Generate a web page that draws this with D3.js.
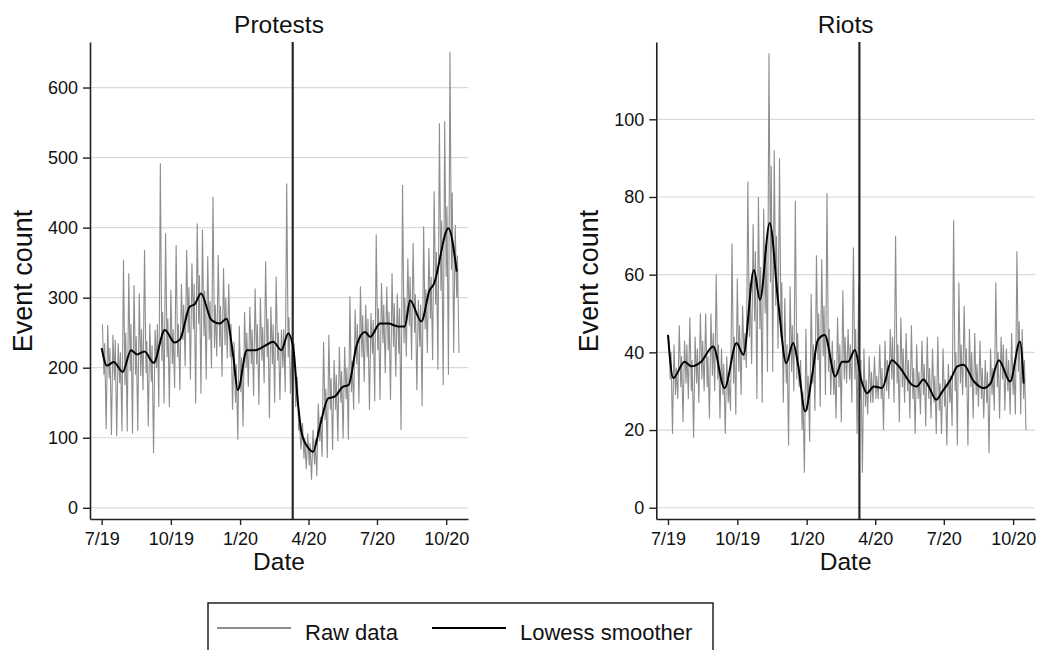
<!DOCTYPE html>
<html><head><meta charset="utf-8">
<script src="https://cdn.jsdelivr.net/npm/d3@7"></script>
<style>body{margin:0;background:#fff}svg{display:block;font-family:"Liberation Sans",Arial,Helvetica,sans-serif}</style>
</head><body><svg id="chart" width="1038" height="650"></svg>
<script>
// ---------- data ----------
const startDate = "2019-07-01";            // first observation (a Monday)
const eventDate = "2020-03-11";            // vertical reference line
const xTickDates = ["2019-07-01","2019-10-01","2020-01-01","2020-04-01","2020-07-01","2020-10-01"];
const xTickLabels = ["7/19","10/19","1/20","4/20","7/20","10/20"];
const protestTicks = [0,100,200,300,400,500,600];
const riotTicks = [0,20,40,60,80,100];

// raw daily counts, summarised per week: weekday peak, weekday dip, second weekday peak, weekend trough
const protestHigh = [262,261,247,235,354,335,318,306,368,263,254,492,392,311,375,320,368,349,406,397,359,444,361,342,320,237,260,280,287,313,300,352,287,330,254,463,230,187,121,106,111,149,237,247,211,230,230,302,283,316,290,278,390,321,316,335,306,461,356,378,297,402,371,452,549,552,651,404];
const protestDip  = [190,185,182,178,175,195,190,188,192,180,200,210,215,205,215,240,250,255,262,245,240,228,230,232,215,150,165,200,205,205,210,215,205,210,200,215,200,110,70,60,62,95,125,140,140,150,155,165,205,215,215,220,225,235,225,230,220,235,260,250,230,255,270,290,310,330,340,300];
const protestMid  = [235,228,240,222,250,262,245,255,238,232,262,280,270,255,262,290,315,320,332,310,295,290,288,300,262,205,215,250,255,262,258,270,262,250,255,272,235,120,100,92,98,130,170,185,190,195,200,210,262,275,270,268,285,290,280,292,285,300,330,305,290,312,330,365,410,430,450,360];
const protestLow  = [112,104,102,109,109,106,110,168,116,78,144,149,144,171,168,202,183,149,163,183,199,216,187,213,140,97,116,173,160,147,178,128,150,154,165,163,144,83,55,40,45,73,71,83,95,99,97,140,149,180,140,152,154,192,154,187,111,216,211,168,145,221,211,197,175,190,221,221];
const riotHigh = [44,42,47,43,49,44,50,50,50,60,41,39,68,59,52,84,73,80,77,117,92,90,54,57,79,38,46,55,65,64,81,43,49,56,46,67,57,41,39,39,42,43,46,70,49,45,47,42,43,44,41,44,41,37,74,58,52,46,45,43,38,41,58,44,41,45,66,46];
const riotDip  = [33,29,31,32,30,32,33,31,34,33,29,27,32,35,38,44,48,46,50,58,52,44,32,35,33,20,25,32,38,39,35,29,31,33,33,33,28,26,27,28,28,30,33,32,31,30,28,28,29,28,27,25,26,27,30,32,31,31,29,28,27,29,31,33,30,29,35,28];
const riotMid  = [40,36,39,42,38,41,43,39,45,42,37,33,44,47,45,58,66,62,68,88,70,58,42,47,45,30,34,42,50,52,46,38,42,44,42,46,38,33,35,34,36,38,44,42,41,38,36,35,37,36,34,32,33,34,40,42,41,40,37,36,35,36,40,42,38,37,48,38];
const riotLow  = [19,28,22,28,18,27,30,23,30,23,19,25,24,29,36,37,28,27,35,35,41,27,16,30,31,9,17,25,26,29,29,23,22,32,27,19,9,24,27,28,20,28,27,22,27,23,19,24,21,23,19,19,16,21,16,29,16,23,26,23,14,25,23,25,24,24,24,20];

// lowess smoother: days since startDate and fitted value
const protestSmoothDay = [0,7,16,28,39,47,57,69,84,97,104,117,124,132,146,157,166,175,181,193,204,215,228,239,248,255,261,266,275,281,290,301,310,321,328,339,350,357,370,381,394,403,410,425,436,441,461,472];
const protestSmooth    = [228,203,208,194,225,219,223,207,254,236,240,287,291,306,268,263,270,216,168,225,225,230,237,225,249,225,149,106,85,80,116,156,159,173,175,232,251,244,263,263,259,259,296,266,311,318,399,337];
const riotSmoothDay = [0,7,22,31,44,60,75,91,100,114,122,135,146,157,166,173,182,191,199,208,222,231,239,248,257,264,273,284,297,308,324,330,339,346,356,364,375,384,392,406,419,428,439,454,467,472];
const riotSmooth    = [44.5,33.4,37.6,36.4,37.6,41.5,30.8,42.4,39.4,61.2,53.5,73.3,53.5,37.2,42.4,36.4,24.8,33.8,43.2,44.5,33.8,37.6,37.6,40.6,32.5,29.5,31.2,30.8,38,36,31.6,31.2,33,31.2,27.8,29.9,33,36.4,36.8,32.5,30.8,32,38,32.5,42.8,32];

// ---------- drawing ----------
function parse(s){const p=s.split("-").map(Number);return new Date(p[0],p[1]-1,p[2]);}
const start = parse(startDate);
const svg = d3.select("#chart");
const TOP = 42, BOTTOM = 519;

function panel(cfg){
  const g = svg.append("g");
  const x = d3.scaleTime()
    .domain([d3.timeHour.offset(start,-15.5*24), d3.timeDay.offset(start,487)])
    .range([cfg.left, cfg.right]);
  const y = d3.scaleLinear().domain(cfg.yDomain).range([BOTTOM, TOP]);

  // gridlines
  g.append("g").selectAll("line").data(cfg.ticks).join("line")
    .attr("x1", cfg.left).attr("x2", cfg.right)
    .attr("y1", d=>y(d)).attr("y2", d=>y(d))
    .attr("stroke", "#d9d9d9").attr("stroke-width", 1.2);

  // raw series (Tue peak, Thu dip, Fri peak, Sun trough)
  const raw = [];
  cfg.high.forEach((h,k)=>{
    raw.push({date:d3.timeDay.offset(start,7*k+1), v:h});
    raw.push({date:d3.timeDay.offset(start,7*k+3), v:cfg.dip[k]});
    raw.push({date:d3.timeDay.offset(start,7*k+4), v:cfg.mid[k]});
    raw.push({date:d3.timeDay.offset(start,7*k+6), v:cfg.low[k]});
  });
  g.append("path").datum(raw)
    .attr("fill","none").attr("stroke","#8e8e8e").attr("stroke-width",1.1)
    .attr("d", d3.line().x(d=>x(d.date)).y(d=>y(d.v)));

  // event line
  const ex = x(parse(eventDate));
  g.append("line").attr("x1",ex).attr("x2",ex).attr("y1",TOP).attr("y2",BOTTOM)
    .attr("stroke","#2a2a2a").attr("stroke-width",2.2);

  // smoother
  const sm = cfg.smoothDay.map((d,i)=>({date:d3.timeDay.offset(start,d), v:cfg.smooth[i]}));
  g.append("path").datum(sm)
    .attr("fill","none").attr("stroke","#000").attr("stroke-width",2)
    .attr("d", d3.line().curve(d3.curveMonotoneX).x(d=>x(d.date)).y(d=>y(d.v)));

  // axes
  const ya = g.append("g").attr("transform",`translate(${cfg.left},0)`)
    .call(d3.axisLeft(y).tickValues(cfg.ticks).tickSize(7).tickSizeOuter(0).tickPadding(5));
  const xa = g.append("g").attr("transform",`translate(0,${BOTTOM})`)
    .call(d3.axisBottom(x).tickValues(xTickDates.map(parse)).tickFormat((d,i)=>xTickLabels[i])
      .tickSize(6).tickSizeOuter(0).tickPadding(7));
  [ya,xa].forEach(a=>{
    a.select(".domain").attr("stroke","#222").attr("stroke-width",1.6);
    a.selectAll(".tick line").attr("stroke","#222").attr("stroke-width",1.4);
    a.selectAll("text").attr("font-size",18).attr("fill","#111")
      .attr("font-family","'Liberation Sans',Arial,sans-serif");
  });

  // titles & labels
  const cx = (cfg.left+cfg.right)/2;
  g.append("text").attr("x",cx).attr("y",33).attr("text-anchor","middle")
    .attr("font-size",24.5).attr("fill","#111").text(cfg.title);
  g.append("text").attr("x",cx).attr("y",570).attr("text-anchor","middle")
    .attr("font-size",24.5).attr("fill","#111").text("Date");
  g.append("text").attr("transform",`translate(${cfg.labelX},281) rotate(-90)`)
    .attr("text-anchor","middle").attr("font-size",27).attr("fill","#111").text("Event count");
}

panel({left:90, right:468, yDomain:[-16,665], ticks:protestTicks, title:"Protests",
  high:protestHigh, dip:protestDip, mid:protestMid, low:protestLow,
  smoothDay:protestSmoothDay, smooth:protestSmooth, labelX:31.5});
panel({left:656.3, right:1035, yDomain:[-2.9,119.9], ticks:riotTicks, title:"Riots",
  high:riotHigh, dip:riotDip, mid:riotMid, low:riotLow,
  smoothDay:riotSmoothDay, smooth:riotSmooth, labelX:598});

// legend
const lg = svg.append("g");
lg.append("rect").attr("x",208).attr("y",603).attr("width",505).attr("height",70)
  .attr("fill","none").attr("stroke","#222").attr("stroke-width",1.5);
const legendItems = [{label:"Raw data", color:"#8e8e8e", x1:217, x2:291, tx:305},
                     {label:"Lowess smoother", color:"#000", x1:432, x2:506, tx:520}];
legendItems.forEach(it=>{
  lg.append("line").attr("x1",it.x1).attr("x2",it.x2).attr("y1",628).attr("y2",628)
    .attr("stroke",it.color).attr("stroke-width",2);
  lg.append("text").attr("x",it.tx).attr("y",640).attr("font-size",22).attr("fill","#111").text(it.label);
});
</script></body></html>
